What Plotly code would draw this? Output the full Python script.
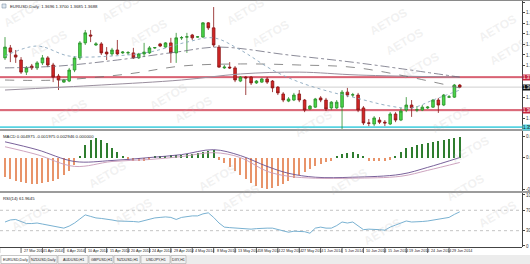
import plotly.graph_objects as go

# ---------------- data ----------------
opens = [1.3799,1.3837,1.3810,1.3791,1.3745,1.3768,1.3761,1.3780,1.3799,1.3772,
         1.3730,1.3707,1.3711,1.3753,1.3799,1.3856,1.3886,1.3848,1.3852,1.3821,
         1.3814,1.3829,1.3818,1.3818,1.3818,1.3799,1.3814,1.3818,1.3837,1.3852,
         1.3840,1.3856,1.3818,1.3875,1.3878,1.3886,1.3878,1.3878,1.3932,1.3913,
         1.3840,1.3761,1.3764,1.3761,1.3711,1.3726,1.3726,1.3704,1.3707,1.3719,
         1.3711,1.3688,1.3662,1.3635,1.3639,1.3662,1.3639,1.3605,1.3612,1.3647,
         1.3639,1.3609,1.3609,1.3612,1.3669,1.3658,1.3658,1.3609,1.3552,1.3548,
         1.3563,1.3555,1.3548,1.3586,1.3563,1.3601,1.3620,1.3601,1.3601,1.3609,
         1.3612,1.3639,1.3620,1.3650,1.3650,1.3696]
closes = [1.3840,1.3821,1.3802,1.3745,1.3761,1.3761,1.3780,1.3799,1.3772,1.3726,
          1.3715,1.3715,1.3753,1.3799,1.3856,1.3894,1.3882,1.3852,1.3818,1.3814,
          1.3829,1.3814,1.3821,1.3819,1.3799,1.3814,1.3821,1.3837,1.3838,1.3844,
          1.3856,1.3818,1.3875,1.3876,1.3879,1.3875,1.3879,1.3932,1.3913,1.3848,
          1.3764,1.3764,1.3761,1.3715,1.3726,1.3723,1.3704,1.3711,1.3719,1.3707,
          1.3685,1.3666,1.3639,1.3643,1.3658,1.3639,1.3601,1.3616,1.3643,1.3639,
          1.3605,1.3631,1.3631,1.3669,1.3658,1.3659,1.3601,1.3552,1.3551,1.3571,
          1.3555,1.3552,1.3586,1.3563,1.3597,1.3620,1.3609,1.3602,1.3612,1.3612,
          1.3639,1.3620,1.3658,1.3651,1.3696,1.3688]
highs = [1.3878,1.3848,1.3829,1.3802,1.3768,1.3776,1.3787,1.3810,1.3806,1.3780,
         1.3738,1.3719,1.3761,1.3806,1.3863,1.3905,1.3905,1.3859,1.3859,1.3840,
         1.3837,1.3867,1.3825,1.3825,1.3837,1.3818,1.3856,1.3844,1.3840,1.3856,
         1.3859,1.3875,1.3894,1.3882,1.3894,1.3890,1.3882,1.3935,1.3935,1.3992,
         1.3848,1.3772,1.3783,1.3768,1.3730,1.3730,1.3730,1.3715,1.3723,1.3726,
         1.3715,1.3692,1.3669,1.3650,1.3666,1.3677,1.3643,1.3620,1.3647,1.3654,
         1.3647,1.3635,1.3639,1.3677,1.3685,1.3666,1.3666,1.3616,1.3567,1.3578,
         1.3574,1.3563,1.3593,1.3593,1.3609,1.3650,1.3639,1.3616,1.3620,1.3616,
         1.3643,1.3647,1.3662,1.3658,1.3700,1.3700]
lows = [1.3791,1.3783,1.3780,1.3738,1.3734,1.3753,1.3753,1.3772,1.3764,1.3707,
        1.3677,1.3704,1.3707,1.3745,1.3791,1.3848,1.3859,1.3844,1.3810,1.3791,
        1.3806,1.3810,1.3814,1.3810,1.3795,1.3795,1.3802,1.3814,1.3833,1.3840,
        1.3837,1.3780,1.3780,1.3867,1.3818,1.3867,1.3875,1.3875,1.3905,1.3840,
        1.3761,1.3757,1.3757,1.3707,1.3707,1.3658,1.3696,1.3700,1.3704,1.3700,
        1.3669,1.3658,1.3631,1.3631,1.3635,1.3631,1.3593,1.3601,1.3609,1.3631,
        1.3597,1.3601,1.3605,1.3510,1.3650,1.3650,1.3593,1.3544,1.3540,1.3540,
        1.3548,1.3540,1.3544,1.3555,1.3559,1.3593,1.3575,1.3593,1.3597,1.3605,
        1.3609,1.3590,1.3616,1.3647,1.3647,1.3685]
bar_idx = list(range(len(opens)))

tick_idx = [-1,3,7,11,15,19,23,27,31,35,39,43,47,51,55,59,63,67,71,75,79,83]
tick_labels = ["23 Mar 2014","27 Mar 2014","1 Apr 2014","6 Apr 2014","10 Apr 2014",
               "15 Apr 2014","20 Apr 2014","24 Apr 2014","29 Apr 2014","4 May 2014",
               "8 May 2014","13 May 2014","18 May 2014","22 May 2014","27 May 2014",
               "1 Jun 2014","5 Jun 2014","10 Jun 2014","15 Jun 2014","19 Jun 2014",
               "24 Jun 2014","29 Jun 2014"]

# moving averages (read at key points)
ma_fast_idx = [0,6,12,20,27,34,39,44,50,55,61,65,72,76,80,85]
ma_fast_val = [1.3806,1.3844,1.3806,1.3806,1.3821,1.3859,1.3875,1.3829,1.3753,
               1.3707,1.3669,1.3650,1.3616,1.3609,1.3639,1.3677]
ma_mid_idx = [0,10,21,32,40,53,66,85]
ma_mid_val = [1.3761,1.3768,1.3791,1.3821,1.3840,1.3810,1.3780,1.3726]
ma_slow_idx = [0,10,23,33,44,55,66,85]
ma_slow_val = [1.3715,1.3715,1.3738,1.3768,1.3776,1.3772,1.3761,1.3685]
ma_long_idx = [0,18,33,44,55,66,85]
ma_long_val = [1.3677,1.3696,1.3715,1.3738,1.3745,1.3734,1.3726]

red_levels = [1.3726, 1.3601]
cyan_level = 1.3536
last_price = 1.3688
price_ticks = [1.3570,1.3650,1.3770,1.3810,1.3850,1.3890,1.3930,1.3970,1.4010]

macd_hist = [-0.0040,-0.0044,-0.0048,-0.0050,-0.0052,-0.0054,-0.0054,-0.0052,-0.0050,-0.0048,
             -0.0044,-0.0036,-0.0028,-0.0016,
             0.0002,0.0026,0.0036,0.0040,0.0036,0.0030,0.0020,0.0012,0.0004,
             -0.0004,-0.0008,-0.0008,-0.0006,-0.0004,0.0002,0.0004,0.0004,0.0006,0.0006,
             0.0006,0.0008,0.0008,0.0010,0.0012,0.0014,0.0016,
             -0.0004,-0.0012,-0.0020,-0.0028,-0.0036,-0.0044,-0.0052,-0.0058,-0.0062,-0.0064,
             -0.0062,-0.0058,-0.0054,-0.0048,-0.0042,-0.0036,-0.0030,-0.0024,-0.0018,-0.0014,
             -0.0010,-0.0006,
             0.0004,0.0008,0.0010,0.0012,0.0008,0.0002,-0.0006,-0.0008,-0.0008,-0.0006,
             -0.0004,0.0002,
             0.0012,0.0020,0.0022,0.0026,0.0028,0.0030,0.0032,0.0034,0.0036,0.0038,0.0040,0.0042]
macd_line_idx = [0,6,13,20,27,33,39,44,49,53,58,65,74,79,85]
macd_main_val = [0.0032,0.0016,-0.0008,-0.0006,0.0000,0.0006,0.0016,0.0004,-0.0018,
                 -0.0032,-0.0040,-0.0040,-0.0034,-0.0020,0.0000]
macd_sig_val = [0.0022,0.0006,-0.0018,-0.0008,-0.0004,0.0002,0.0010,0.0000,-0.0028,
                -0.0038,-0.0042,-0.0042,-0.0038,-0.0026,-0.0010]

rsi = [47,51,52,48,44,44,45,43,41,39,37,35,39,45,53,61,58,55,54,53,
       51,49,49,49,48,47,50,52,55,56,57,56,52,56,58,59,59,63,65,56,
       45,37,36,35,35,34,33,34,35,35,35,32,30,27,29,29,28,25,35,37,
       35,35,40,47,45,47,40,32,33,33,32,31,37,41,45,49,47,47,48,49,
       51,53,55,56,62,67]

tab_labels = ["EURUSD,Daily","NZDUSD,Daily","AUDUSD,H1","GBPUSD,H1","NZDUSD,H1","USDJPY,H1","DXY,H1"]

# ---------------- geometry helpers ----------------
W, H = 530, 264
ML, MR, MT, MB = 0, 8, 0, 17
PW, PH = W - ML - MR, H - MT - MB   # 522 x 247
def px(x):  # pixel x -> paper
    return (x - ML) / PW
def py(y):  # pixel y -> paper
    return (H - MB - y) / PH

FONT = "Liberation Sans, Arial, sans-serif"

fig = go.Figure()

fig.add_trace(go.Candlestick(
    x=bar_idx, open=opens, high=highs, low=lows, close=closes,
    increasing=dict(line=dict(color="#2a8f2a", width=0.8), fillcolor="#49d649"),
    decreasing=dict(line=dict(color="#8a1515", width=0.8), fillcolor="#d42626"),
    whiskerwidth=0, hoverinfo="skip", xaxis="x", yaxis="y"))

for xs, ys, col, dash, w in [
        (ma_long_idx, ma_long_val, "#9a8f9e", "solid", 1.0),
        (ma_slow_idx, ma_slow_val, "#707070", "dash", 0.8),
        (ma_mid_idx, ma_mid_val, "#6d6d7d", "dashdot", 0.8),
        (ma_fast_idx, ma_fast_val, "#8aa7bd", "dot", 0.9)]:
    fig.add_trace(go.Scatter(x=xs, y=ys, mode="lines", line=dict(color=col, dash=dash, width=w, shape="spline"),
                             hoverinfo="skip", xaxis="x", yaxis="y"))

fig.add_trace(go.Bar(x=bar_idx, y=macd_hist, width=0.22,
                     marker=dict(color=["#2f7d2f" if v >= 0 else "#e8946a" for v in macd_hist], line=dict(width=0)),
                     hoverinfo="skip", xaxis="x", yaxis="y2"))
fig.add_trace(go.Scatter(x=macd_line_idx, y=macd_main_val, mode="lines",
                         line=dict(color="#6a4f8f", width=0.9, shape="spline"), xaxis="x", yaxis="y2"))
fig.add_trace(go.Scatter(x=macd_line_idx, y=macd_sig_val, mode="lines",
                         line=dict(color="#c79ab8", width=0.9, shape="spline"), xaxis="x", yaxis="y2"))

fig.add_trace(go.Scatter(x=bar_idx, y=rsi, mode="lines", line=dict(color="#6aa8cc", width=0.9),
                         hoverinfo="skip", xaxis="x", yaxis="y3"))

x_range = [(0 - 5) / 5.35, (PW - 5) / 5.35]
axis_common = dict(side="right", showgrid=False, zeroline=False, showline=True, linecolor="#444",
                   linewidth=1, ticks="outside", ticklen=2, tickcolor="#444",
                   tickfont=dict(size=4.5, color="#333", family=FONT), automargin=False, anchor="x")

fig.update_layout(
    template="none", width=W, height=H,
    margin=dict(l=ML, r=MR, t=MT, b=MB, pad=0),
    paper_bgcolor="white", plot_bgcolor="white", showlegend=False, bargap=0,
    xaxis=dict(range=x_range, showticklabels=False, showgrid=False, zeroline=False, showline=False,
               ticks="", anchor="y3", rangeslider=dict(visible=False), automargin=False),
    yaxis=dict(domain=[py(129), py(1)], range=[1.3529, 1.4015],
               tickvals=price_ticks, ticktext=[f"{v:.4f}" for v in price_ticks], **axis_common),
    yaxis2=dict(domain=[py(191), py(131)], range=[-0.0068, 0.0054],
                tickvals=[0.0042, 0.0, -0.0064], ticktext=["0.004264", "0.00", "-0.006412"], **axis_common),
    yaxis3=dict(domain=[py(247), py(193)], range=[-2, 103.9],
                tickvals=[0, 30, 70, 100], ticktext=["0", "30", "70", "100"], **axis_common),
)

shapes = []
# horizontal levels
for lv in red_levels:
    shapes.append(dict(type="line", xref="paper", yref="y", x0=0, x1=1, y0=lv, y1=lv,
                       line=dict(color="#e89aa6", width=2.2), layer="below"))
    shapes.append(dict(type="line", xref="paper", yref="y", x0=0, x1=1, y0=lv, y1=lv,
                       line=dict(color="#c8283f", width=0.8), layer="below"))
shapes.append(dict(type="line", xref="paper", yref="y", x0=0, x1=1, y0=cyan_level, y1=cyan_level,
                   line=dict(color="#56d3e2", width=1.6), layer="below"))
shapes.append(dict(type="line", xref="paper", yref="y", x0=0, x1=1, y0=last_price, y1=last_price,
                   line=dict(color="#c4c4c4", width=0.8), layer="below"))
# RSI levels
for lv in [30, 70]:
    shapes.append(dict(type="line", xref="paper", yref="y3", x0=0, x1=1, y0=lv, y1=lv,
                       line=dict(color="#b5b5b5", width=0.8, dash="dot"), layer="below"))
# panel separators and borders
for y0, y1 in [(129, 131), (191, 193)]:
    shapes.append(dict(type="rect", xref="paper", yref="paper", x0=0, x1=px(W), y0=py(y1), y1=py(y0),
                       fillcolor="#9c9c9c", line=dict(width=0)))
shapes.append(dict(type="line", xref="paper", yref="paper", x0=0, x1=px(W), y0=py(0.5), y1=py(0.5),
                   line=dict(color="#8a8a8a", width=1)))
shapes.append(dict(type="line", xref="paper", yref="paper", x0=0, x1=1, y0=py(247.5), y1=py(247.5),
                   line=dict(color="#444", width=1)))
# date ticks
for ti in tick_idx:
    shapes.append(dict(type="line", xref="x", yref="paper", x0=ti, x1=ti, y0=py(247), y1=py(253),
                       line=dict(color="#444", width=0.8)))
# tab bar
shapes.append(dict(type="rect", xref="paper", yref="paper", x0=0, x1=px(W), y0=py(264), y1=py(255),
                   fillcolor="#ececec", line=dict(width=0)))
tab_edges = [(1, 29), (30, 57), (58, 88), (89, 113), (114, 140), (141, 170), (171, 186)]
for k, (a, b) in enumerate(tab_edges):
    shapes.append(dict(type="rect", xref="paper", yref="paper", x0=px(a), x1=px(b), y0=py(263.5), y1=py(255.5),
                       fillcolor="white" if k == 0 else "#f3f3f3", line=dict(color="#a8a8a8", width=0.6)))
# small icon in title
shapes.append(dict(type="rect", xref="paper", yref="paper", x0=px(2), x1=px(6), y0=py(8), y1=py(4),
                   fillcolor="#dfe8f0", line=dict(color="#6b8299", width=0.5)))

annotations = []
# right axis value boxes
for lv, bg, fg in [(red_levels[0], "#c8283f", "white"), (red_levels[1], "#c8283f", "white"),
                   (last_price, "#111111", "white"), (cyan_level, "#56d3e2", "#111111")]:
    annotations.append(dict(x=1.0, y=lv, xref="paper", yref="y", xanchor="left", yanchor="middle",
                            text=f"{lv:.4f}", showarrow=False, bgcolor=bg, borderpad=0,
                            font=dict(size=4.5, color=fg, family=FONT)))
# date labels
for ti, lab in zip(tick_idx, tick_labels):
    annotations.append(dict(x=ti, y=py(251), xref="x", yref="paper", xanchor="left", yanchor="middle",
                            xshift=1, text=lab, showarrow=False, font=dict(size=3.7, color="#222", family=FONT)))
# tab labels
for (a, b), lab in zip(tab_edges, tab_labels):
    annotations.append(dict(x=px((a + b) / 2), y=py(259.5), xref="paper", yref="paper", xanchor="center",
                            yanchor="middle", text=lab, showarrow=False,
                            font=dict(size=3.7, color="#222", family=FONT)))
# indicator titles
annotations.append(dict(x=px(8), y=py(6), xref="paper", yref="paper", xanchor="left", yanchor="middle",
                        text="EURUSD,Daily  1.3696 1.3700 1.3685 1.3688", showarrow=False,
                        font=dict(size=4.3, color="#222", family=FONT)))
annotations.append(dict(x=px(1), y=py(136), xref="paper", yref="paper", xanchor="left", yanchor="middle",
                        text="MACD 0.004975 -0.001975 0.002946 0.000000", showarrow=False,
                        font=dict(size=4.3, color="#222", family=FONT)))
annotations.append(dict(x=px(1), y=py(198), xref="paper", yref="paper", xanchor="left", yanchor="middle",
                        text="RSI(14) 61.9645", showarrow=False,
                        font=dict(size=4.3, color="#222", family=FONT)))
# watermarks
wm_pos = [(22, 14), (48, 44), (120, 9), (148, 33), (245, 12), (270, 34), (388, 22), (404, 42),
          (498, 28), (420, 66), (508, 52), (68, 113), (168, 97), (193, 110), (313, 124),
          (450, 120), (470, 150), (107, 175), (133, 212), (217, 178), (240, 198), (30, 218),
          (348, 182), (465, 188), (382, 232), (498, 214)]
for (wx, wy) in wm_pos:
    annotations.append(dict(x=px(wx), y=py(wy), xref="paper", yref="paper", text="<b>AETOS</b>",
                            showarrow=False, textangle=-30, xanchor="center", yanchor="middle",
                            font=dict(size=12, color="rgba(185,185,185,0.2)", family=FONT)))

fig.update_layout(shapes=shapes, annotations=annotations)
fig.write_html("out.html")
